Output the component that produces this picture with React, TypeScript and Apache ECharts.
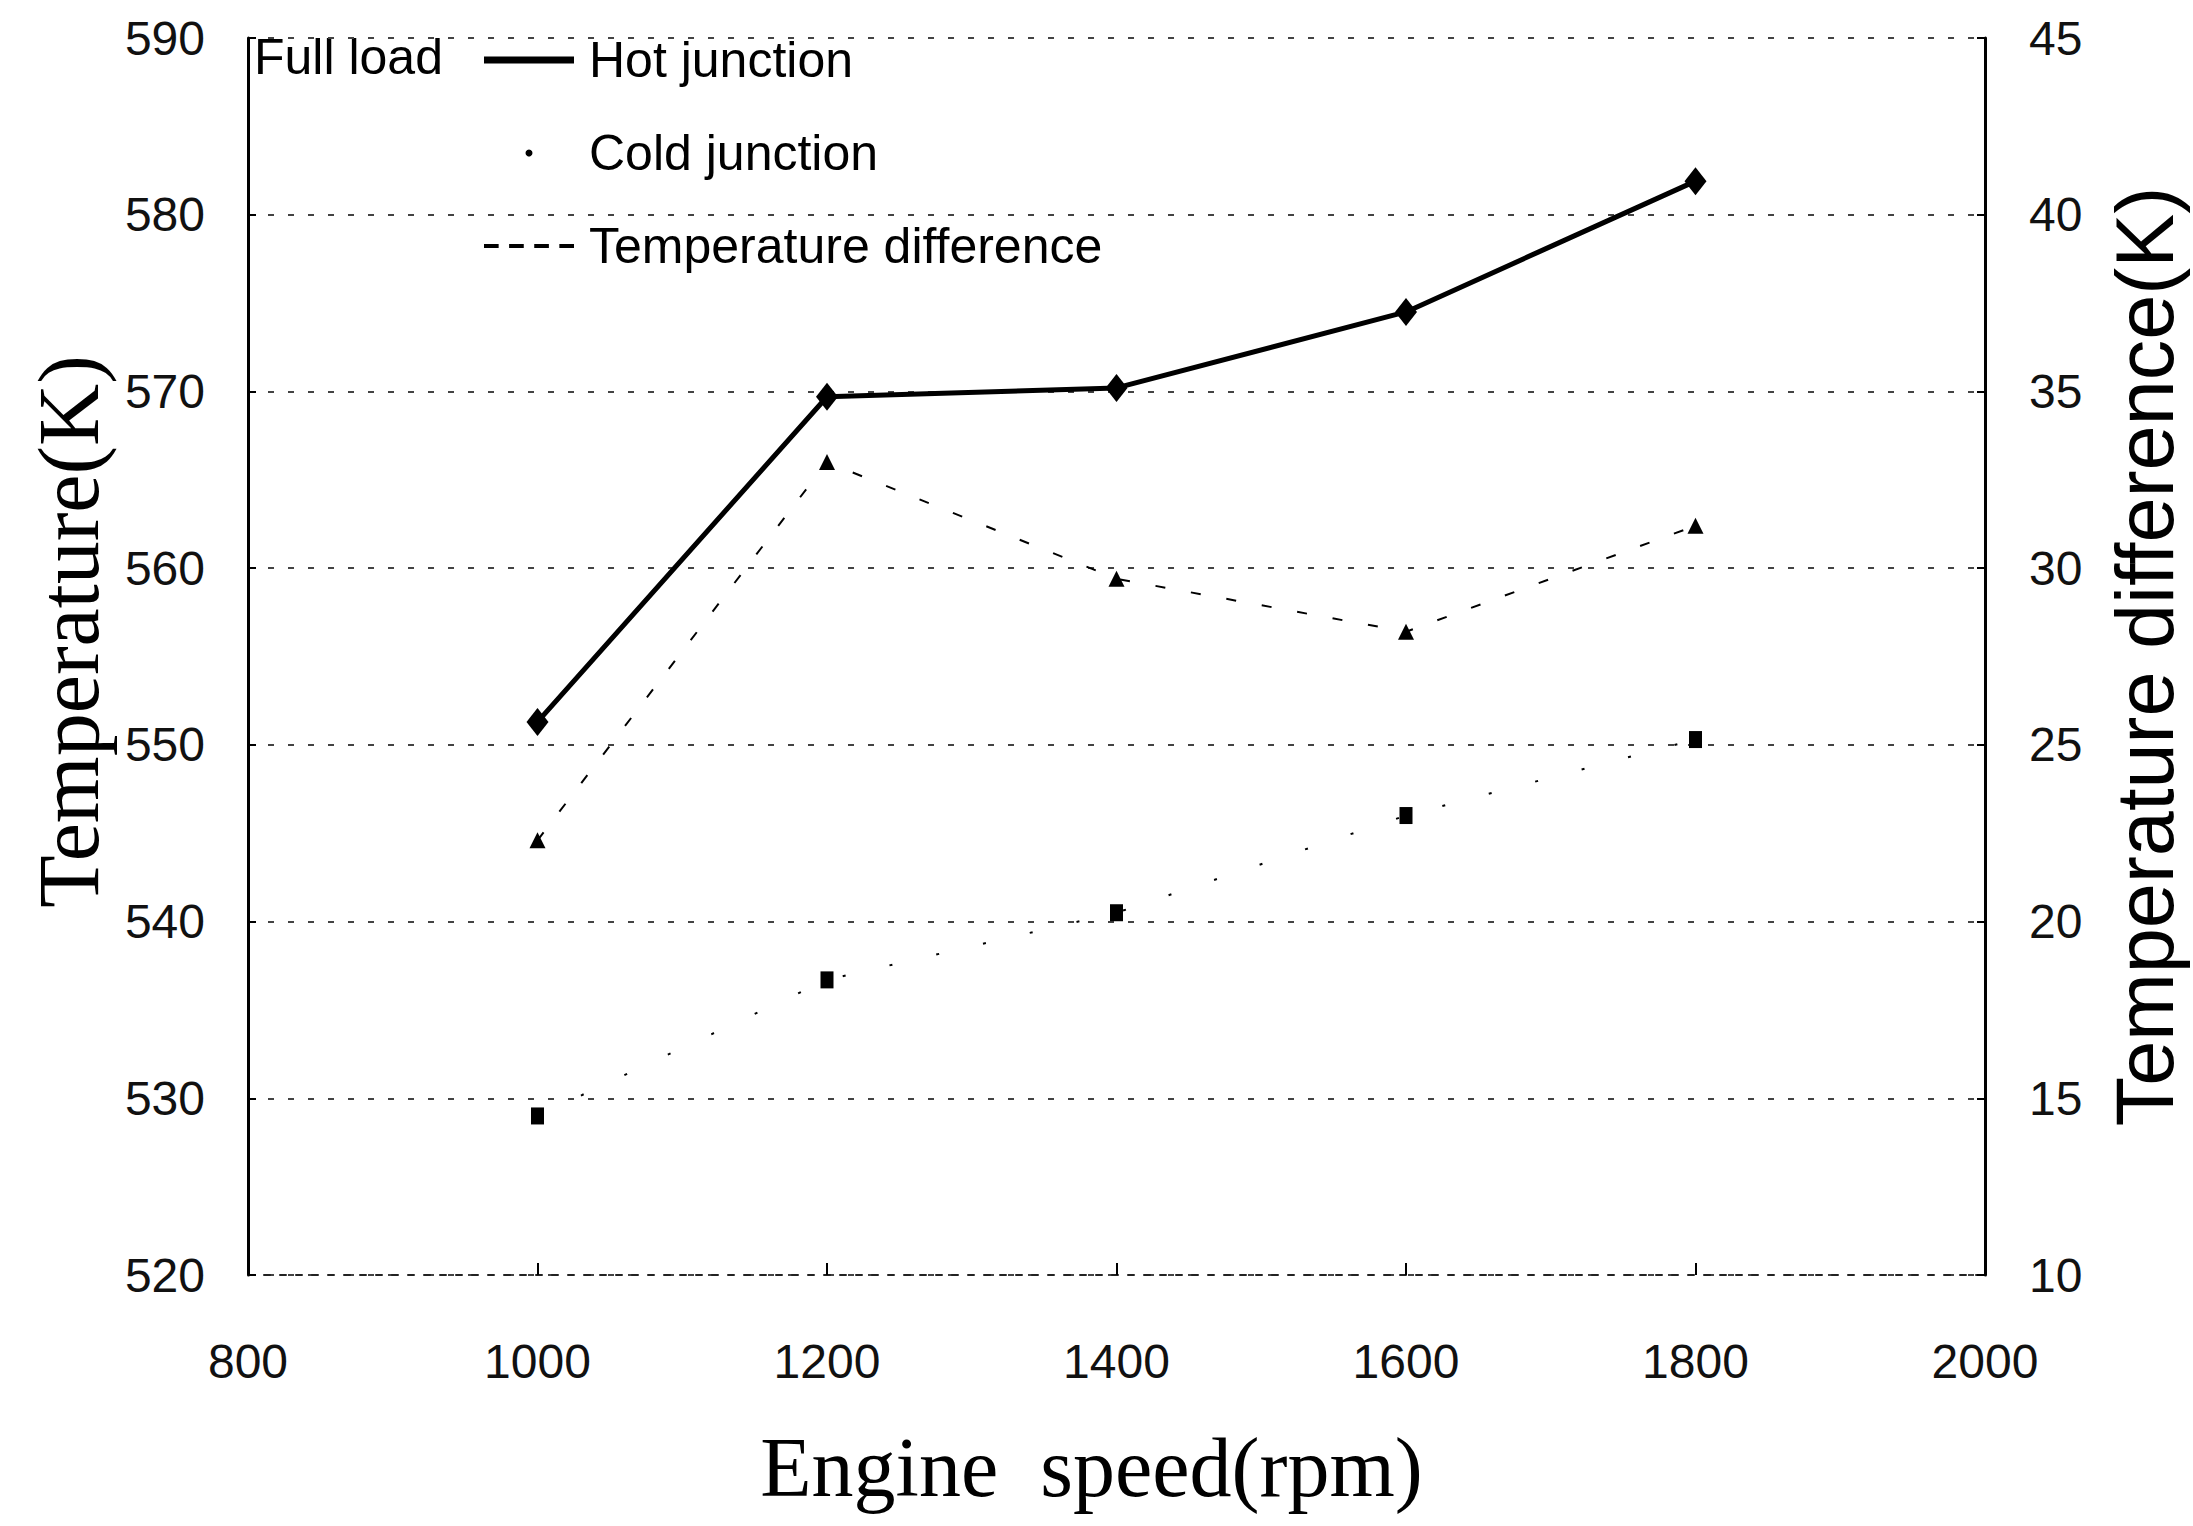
import React, { useEffect, useRef } from "react";
import * as echarts from "echarts";

const speeds = [1000, 1200, 1400, 1600, 1800];
const hotJunction = [551.3, 569.7, 570.2, 574.5, 581.9];
const coldJunction = [529.0, 536.7, 540.5, 546.0, 550.3];
const tempDifference = [22.3, 33.0, 29.7, 28.2, 31.2];

const xTicks = { min: 800, max: 2000, interval: 200 };
const leftTicks = { min: 520, max: 590, interval: 10 };
const rightTicks = { min: 10, max: 45, interval: 5 };

const SANS = "'Liberation Sans', Arial, sans-serif";
const SERIF = "'Liberation Serif', 'Times New Roman', serif";

export default function App() {
  const ref = useRef<HTMLDivElement>(null);
  useEffect(() => {
    document.body.style.margin = "0";
    const chart = echarts.init(ref.current!, null, { renderer: "svg" });
    const pairs = (ys: number[]) => speeds.map((s, i) => [s, ys[i]]);
    chart.setOption({
      animation: false,
      backgroundColor: "#fff",
      grid: { left: 248, right: 194, top: 38, bottom: 251, containLabel: false },
      xAxis: {
        type: "value",
        min: xTicks.min,
        max: xTicks.max,
        interval: xTicks.interval,
        name: "Engine  speed(rpm)",
        nameLocation: "middle",
        nameGap: 150,
        nameTextStyle: { fontFamily: SERIF, fontSize: 84, color: "#000", padding: [0, 50, 0, 0] },
        axisLine: { show: true, lineStyle: { color: "#222", width: 2, type: [6, 10] } },
        axisTick: { show: true, inside: true, length: 12, lineStyle: { color: "#000", width: 2 } },
        axisLabel: {
          fontFamily: SANS,
          fontSize: 48,
          color: "#111",
          margin: 62,
          formatter: (v: number) => String(v),
        },
        splitLine: { show: false },
      },
      yAxis: [
        {
          type: "value",
          position: "left",
          min: leftTicks.min,
          max: leftTicks.max,
          interval: leftTicks.interval,
          name: "Temperature(K)",
          nameLocation: "middle",
          nameRotate: 90,
          nameGap: 136,
          nameTextStyle: { fontFamily: SERIF, fontSize: 86, color: "#000", padding: [0, 0, 0, 50] },
          axisLine: { show: true, lineStyle: { color: "#000", width: 3 } },
          axisTick: { show: true, inside: true, length: 8, lineStyle: { color: "#000", width: 2 } },
          axisLabel: { fontFamily: SANS, fontSize: 48, color: "#111", margin: 43 },
          splitLine: { show: true, lineStyle: { color: "#444", width: 2, type: [6, 14] } },
        },
        {
          type: "value",
          position: "right",
          min: rightTicks.min,
          max: rightTicks.max,
          interval: rightTicks.interval,
          name: "Temperature difference(K)",
          nameLocation: "middle",
          nameRotate: 90,
          nameGap: 119,
          nameTextStyle: { fontFamily: SANS, fontSize: 81, color: "#000" },
          axisLine: { show: true, lineStyle: { color: "#000", width: 3 } },
          axisTick: { show: true, inside: true, length: 8, lineStyle: { color: "#000", width: 2 } },
          axisLabel: { fontFamily: SANS, fontSize: 48, color: "#111", margin: 44 },
          splitLine: { show: false },
        },
      ],
      legend: {
        orient: "vertical",
        left: 484,
        top: 32,
        padding: 0,
        itemWidth: 90,
        itemHeight: 7,
        itemGap: 37,
        textStyle: { fontFamily: SANS, fontSize: 50, color: "#000", lineHeight: 56, padding: [0, 0, 0, 10] },
        data: [
          { name: "Hot junction", icon: "rect" },
          { name: "Cold junction", icon: "circle" },
          {
            name: "Temperature difference",
            icon: "path://M0,0h14v4h-14z M24,0h14v4h-14z M48,0h14v4h-14z M72,0h14v4h-14z",
          },
        ],
      },
      graphic: [
        {
          type: "text",
          left: 254,
          top: 32,
          style: { text: "Full load", fontFamily: SANS, fontSize: 50, fill: "#000" },
        },
      ],
      series: [
        {
          name: "Hot junction",
          type: "line",
          yAxisIndex: 0,
          data: pairs(hotJunction),
          symbol: "diamond",
          symbolSize: [22, 28],
          itemStyle: { color: "#000" },
          lineStyle: { color: "#000", width: 5 },
          z: 3,
        },
        {
          name: "Cold junction",
          type: "line",
          yAxisIndex: 0,
          data: pairs(coldJunction),
          symbol: "rect",
          symbolSize: [13, 17],
          itemStyle: { color: "#000" },
          lineStyle: { color: "#000", width: 2, type: [3, 45] },
        },
        {
          name: "Temperature difference",
          type: "line",
          yAxisIndex: 1,
          data: pairs(tempDifference),
          symbol: "triangle",
          symbolSize: 16,
          itemStyle: { color: "#000" },
          lineStyle: { color: "#000", width: 2, type: [10, 26] },
        },
      ],
    });
    return () => chart.dispose();
  }, []);
  return <div ref={ref} style={{ width: 2193, height: 1526, background: "#fff" }} />;
}
